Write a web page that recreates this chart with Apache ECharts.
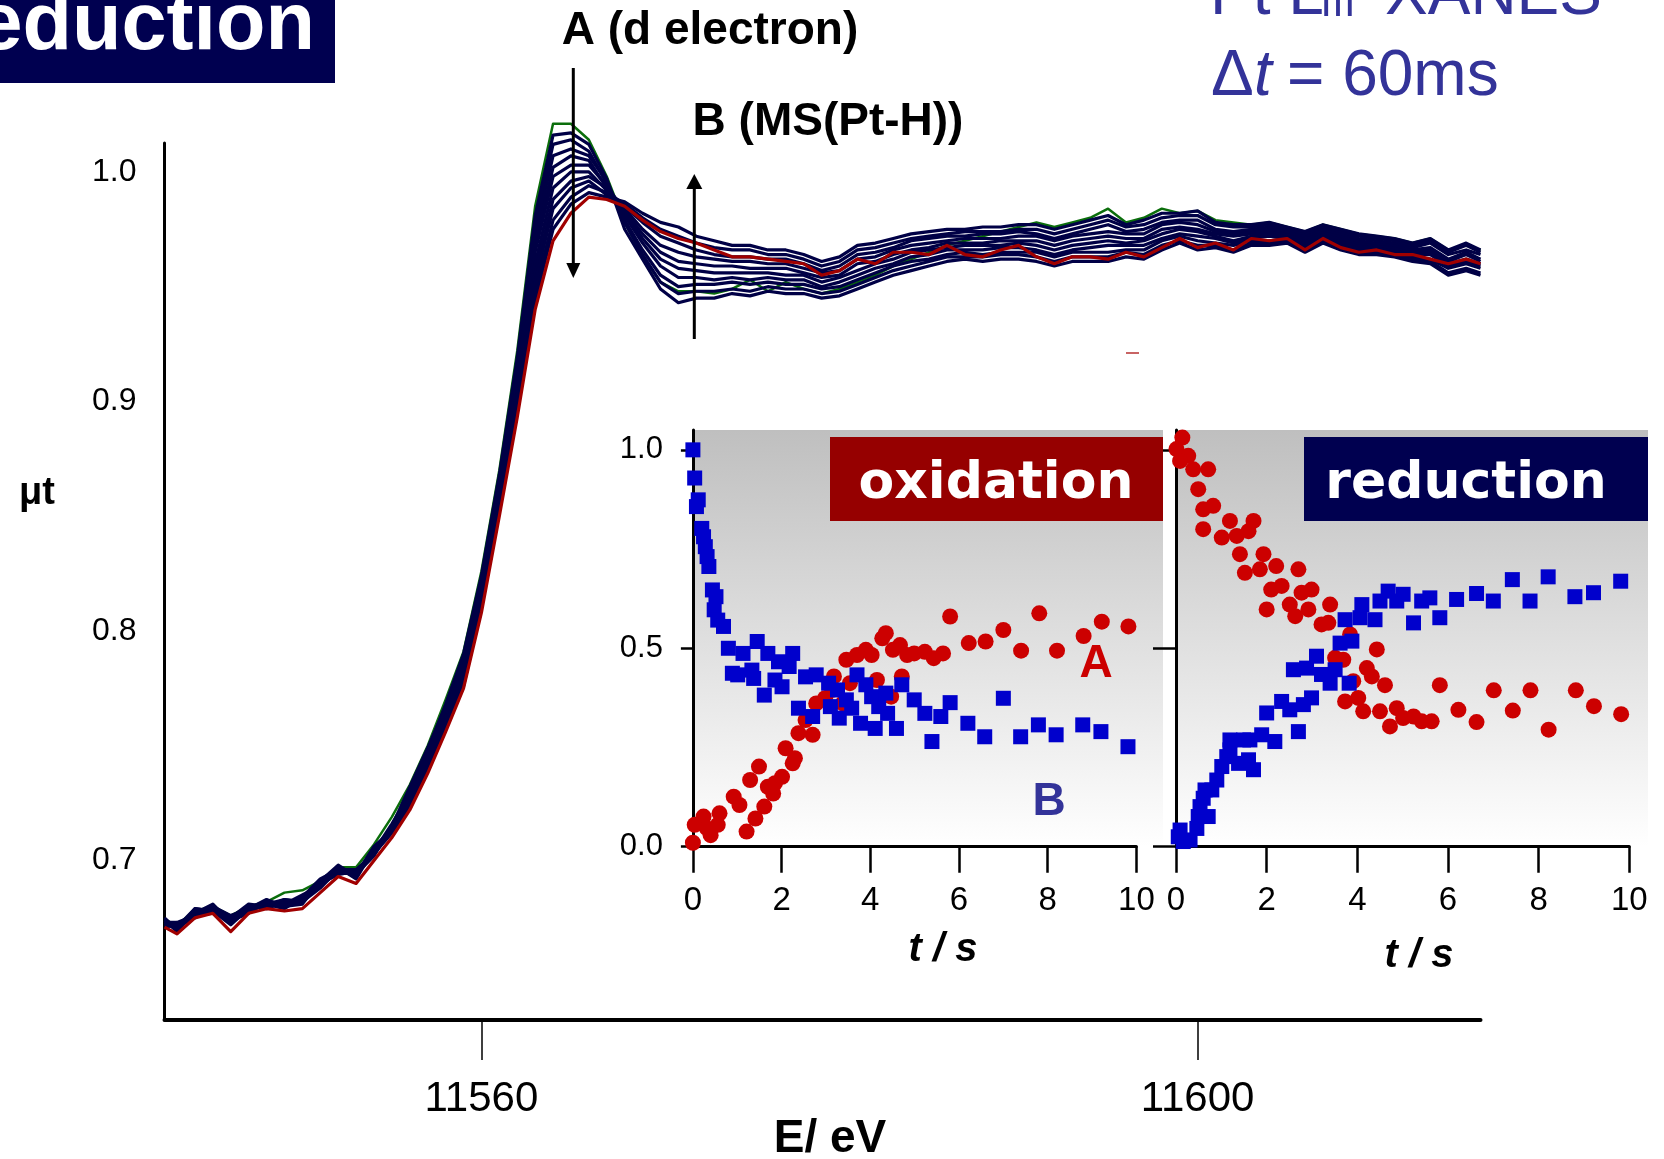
<!DOCTYPE html>
<html>
<head>
<meta charset="utf-8">
<script src="https://cdn.jsdelivr.net/npm/echarts@6.0.0/dist/echarts.min.js"></script>
<style>
  html, body { margin: 0; padding: 0; background: #ffffff; }
  #chart { width: 1664px; height: 1159px; }
</style>
</head>
<body>
<div id="chart"></div>
<script>
// Photon energy of each point of the Pt L3-edge XANES scans (eV)
const energyEv = [
  11542.3, 11543, 11544, 11545, 11546, 11547, 11548, 11549, 11550, 11551,
  11552, 11553, 11554, 11555, 11556, 11557, 11558, 11559, 11560, 11561,
  11562, 11563, 11564, 11565, 11566, 11567, 11568, 11569, 11570, 11571,
  11572, 11573, 11574, 11575, 11576, 11577, 11578, 11579, 11580, 11581,
  11582, 11583, 11584, 11585, 11586, 11587, 11588, 11589, 11590, 11591,
  11592, 11593, 11594, 11595, 11596, 11597, 11598, 11599, 11600, 11601,
  11602, 11603, 11604, 11605, 11606, 11607, 11608, 11609, 11610, 11611,
  11612, 11613, 11614, 11615, 11615.8
];

// mu*t of the successive 60 ms scans, in thousandths.
// scan00 is the first scan, scan11 the last one.
const scan00 = [
  674, 672, 678, 680, 676, 680, 682, 686, 687, 691,
  697, 697, 707, 719, 733, 750, 770, 791, 826, 870,
  922, 985, 1021, 1021, 1014, 998, 978, 963, 952, 948,
  948, 947, 949, 953, 948, 952, 949, 947, 949, 952,
  955, 959, 962, 965, 968, 970, 972, 974, 976, 978,
  976, 978, 980, 984, 978, 980, 984, 982, 983, 979,
  978, 977, 978, 976, 974, 977, 975, 973, 972, 971,
  969, 971, 966, 968, 966
];
const scan01 = [
  674, 671, 679, 678, 675, 680, 681, 683, 682, 691,
  697, 694, 706, 713, 731, 748, 768, 790, 824, 868,
  919, 981, 1016, 1017, 1012, 997, 975, 962, 949, 943,
  945, 945, 947, 946, 948, 947, 947, 945, 946, 949,
  952, 955, 957, 959, 961, 962, 961, 962, 962, 961,
  959, 961, 961, 961, 963, 962, 966, 969, 966, 967,
  965, 968, 968, 969, 965, 969, 966, 964, 964, 963,
  961, 960, 955, 957, 955
];
const scan02 = [
  673, 673, 676, 680, 674, 679, 683, 680, 684, 690,
  696, 696, 703, 715, 732, 749, 767, 788, 823, 866,
  917, 977, 1012, 1014, 1009, 995, 978, 964, 952, 947,
  948, 948, 949, 948, 950, 949, 949, 947, 948, 951,
  954, 957, 959, 961, 963, 963, 963, 964, 964, 963,
  961, 963, 963, 963, 965, 964, 968, 970, 968, 968,
  966, 969, 969, 970, 966, 970, 967, 965, 965, 964,
  962, 961, 956, 958, 956
];
const scan03 = [
  672, 672, 677, 681, 673, 678, 682, 681, 685, 689,
  695, 695, 704, 716, 729, 746, 765, 787, 821, 865,
  914, 973, 1007, 1010, 1007, 996, 979, 966, 955, 950,
  951, 951, 952, 951, 952, 951, 951, 949, 950, 953,
  956, 959, 961, 962, 964, 965, 964, 965, 965, 965,
  963, 965, 965, 965, 966, 966, 970, 972, 970, 969,
  968, 970, 970, 971, 967, 971, 968, 966, 966, 965,
  963, 962, 958, 960, 958
];
const scan04 = [
  675, 670, 678, 679, 675, 681, 680, 682, 683, 691,
  698, 693, 705, 714, 730, 747, 766, 785, 819, 863,
  911, 969, 1002, 1007, 1005, 993, 981, 969, 959, 954,
  954, 953, 954, 953, 954, 953, 953, 950, 952, 955,
  958, 960, 963, 964, 966, 966, 966, 967, 967, 966,
  964, 966, 967, 968, 968, 968, 971, 973, 972, 971,
  969, 971, 972, 971, 968, 972, 969, 967, 967, 966,
  964, 964, 959, 961, 959
];
const scan05 = [
  673, 671, 675, 680, 676, 679, 681, 679, 684, 692,
  696, 694, 702, 715, 728, 744, 763, 784, 818, 861,
  909, 965, 998, 1003, 1003, 994, 982, 971, 962, 958,
  957, 956, 956, 956, 956, 955, 955, 952, 954, 957,
  960, 962, 965, 966, 967, 968, 968, 968, 969, 968,
  966, 968, 969, 970, 969, 970, 973, 975, 974, 972,
  970, 972, 973, 972, 969, 973, 970, 968, 968, 967,
  965, 965, 960, 962, 960
];
const scan06 = [
  671, 672, 677, 678, 674, 677, 682, 681, 682, 690,
  694, 695, 704, 713, 726, 745, 762, 782, 816, 859,
  906, 960, 993, 1000, 1000, 992, 983, 973, 965, 961,
  960, 959, 959, 958, 958, 958, 956, 954, 955, 960,
  961, 964, 966, 967, 969, 969, 969, 970, 970, 970,
  968, 970, 971, 972, 971, 971, 975, 976, 975, 973,
  972, 973, 974, 973, 970, 973, 971, 969, 968, 967,
  965, 966, 961, 964, 961
];
const scan07 = [
  674, 669, 678, 679, 673, 680, 679, 682, 683, 689,
  697, 692, 705, 714, 727, 741, 761, 781, 814, 857,
  903, 956, 988, 996, 998, 993, 984, 975, 968, 965,
  963, 962, 961, 961, 960, 960, 958, 956, 957, 962,
  963, 966, 968, 969, 970, 971, 971, 971, 972, 972,
  970, 972, 973, 974, 973, 973, 977, 978, 977, 974,
  973, 974, 975, 974, 971, 974, 972, 970, 969, 968,
  966, 967, 962, 965, 962
];
const scan08 = [
  672, 671, 676, 677, 675, 678, 681, 680, 681, 691,
  695, 694, 703, 712, 724, 742, 759, 779, 813, 855,
  901, 952, 984, 993, 996, 990, 985, 978, 972, 969,
  966, 964, 963, 963, 962, 962, 960, 957, 959, 964,
  965, 967, 970, 971, 972, 972, 973, 973, 974, 973,
  971, 973, 975, 977, 974, 975, 978, 979, 979, 975,
  974, 975, 976, 974, 972, 975, 973, 971, 970, 969,
  967, 969, 964, 966, 964
];
const scan09 = [
  673, 670, 679, 678, 672, 679, 680, 683, 682, 688,
  696, 693, 706, 713, 725, 739, 760, 778, 811, 854,
  898, 948, 979, 989, 994, 991, 986, 980, 975, 972,
  969, 967, 966, 966, 964, 964, 962, 959, 961, 966,
  967, 969, 971, 972, 973, 974, 974, 974, 975, 975,
  973, 975, 977, 979, 976, 977, 980, 981, 981, 977,
  976, 976, 977, 975, 973, 976, 974, 972, 971, 970,
  968, 970, 965, 968, 965
];
const scan10 = [
  671, 672, 676, 680, 674, 677, 682, 680, 684, 690,
  694, 695, 703, 715, 723, 740, 757, 776, 810, 852,
  895, 944, 975, 986, 991, 989, 987, 982, 978, 976,
  972, 970, 968, 968, 966, 966, 964, 961, 963, 968,
  969, 971, 973, 974, 975, 975, 976, 976, 977, 977,
  975, 977, 979, 981, 977, 979, 982, 982, 983, 978,
  977, 977, 978, 976, 974, 977, 975, 973, 972, 971,
  969, 971, 966, 969, 966
];
const scan11 = [
  671, 668, 675, 677, 669, 677, 679, 678, 679, 686,
  693, 690, 700, 710, 722, 738, 756, 775, 808, 850,
  893, 940, 970, 982, 989, 988, 985, 979, 974, 971,
  969, 966, 963, 963, 962, 961, 960, 955, 957, 962,
  960, 965, 965, 964, 968, 964, 963, 966, 968, 963,
  960, 963, 963, 962, 965, 963, 967, 971, 967, 969,
  966, 971, 970, 971, 966, 971, 967, 965, 966, 964,
  964, 962, 960, 962, 960
];

// Time course [t (s), normalized intensity] of feature A and feature B
const oxidationA = [
  [0, 0.010], [0.04, 0.055], [0.24, 0.076], [0.40, 0.029], [0.60, 0.084],
  [0.56, 0.055], [0.32, 0.046], [0.92, 0.126], [1.05, 0.105], [1.21, 0.038],
  [1.29, 0.168], [1.41, 0.071], [1.49, 0.202], [1.61, 0.101], [1.69, 0.151],
  [1.81, 0.134], [1.85, 0.160], [2.01, 0.176], [2.09, 0.248], [2.25, 0.210],
  [2.30, 0.223], [2.38, 0.286], [2.54, 0.319], [2.70, 0.282], [2.78, 0.361],
  [2.98, 0.374], [3.18, 0.429], [3.14, 0.395], [3.38, 0.361], [3.46, 0.471],
  [3.54, 0.412], [3.70, 0.483], [3.90, 0.496], [4.03, 0.483], [4.15, 0.420],
  [4.27, 0.525], [4.35, 0.538], [4.47, 0.378], [4.51, 0.496], [4.71, 0.429],
  [4.67, 0.508], [4.83, 0.483], [4.99, 0.487], [5.23, 0.491], [5.43, 0.475],
  [5.64, 0.487], [5.80, 0.580], [6.22, 0.513], [6.60, 0.517], [7.00, 0.546],
  [7.40, 0.494], [7.81, 0.588], [8.21, 0.494], [8.81, 0.531], [9.22, 0.567],
  [9.82, 0.555]
];
const oxidationB = [
  [0, 1.000], [0.04, 0.929], [0.12, 0.874], [0.08, 0.857], [0.20, 0.802],
  [0.24, 0.781], [0.28, 0.756], [0.32, 0.731], [0.36, 0.706], [0.44, 0.647],
  [0.52, 0.630], [0.48, 0.597], [0.56, 0.571], [0.69, 0.555], [0.80, 0.500],
  [1.13, 0.487], [1.45, 0.517], [1.69, 0.487], [1.93, 0.466], [2.25, 0.487],
  [0.89, 0.437], [1.01, 0.433], [1.33, 0.445], [1.37, 0.424], [1.61, 0.382],
  [1.85, 0.420], [2.01, 0.403], [2.17, 0.454], [2.54, 0.428], [2.78, 0.433],
  [3.06, 0.412], [3.26, 0.395], [2.38, 0.349], [2.70, 0.328], [3.10, 0.353],
  [3.30, 0.324], [3.46, 0.370], [3.58, 0.349], [3.70, 0.433], [3.90, 0.408],
  [4.03, 0.378], [4.19, 0.353], [4.39, 0.336], [4.35, 0.387], [4.71, 0.408],
  [4.99, 0.370], [3.78, 0.311], [4.11, 0.298], [4.59, 0.298], [5.23, 0.336],
  [5.39, 0.265], [5.59, 0.328], [5.80, 0.363], [6.20, 0.311], [6.58, 0.277],
  [7.00, 0.374], [7.39, 0.277], [7.79, 0.307], [8.19, 0.282], [8.79, 0.307],
  [9.20, 0.290], [9.81, 0.252]
];
const reductionA = [
  [0.14, 1.031], [0.01, 1.002], [0.27, 0.985], [0.09, 0.972], [0.38, 0.951],
  [0.71, 0.951], [0.49, 0.901], [0.60, 0.850], [0.82, 0.859], [0.60, 0.800],
  [1.01, 0.779], [1.19, 0.821], [1.34, 0.783], [1.60, 0.795], [1.71, 0.821],
  [1.41, 0.737], [1.93, 0.737], [1.52, 0.690], [1.85, 0.699], [2.21, 0.707],
  [2.70, 0.699], [2.10, 0.648], [2.33, 0.657], [2.99, 0.648], [2.77, 0.640],
  [2.00, 0.598], [2.51, 0.610], [2.63, 0.581], [2.92, 0.598], [3.40, 0.610],
  [3.21, 0.560], [3.36, 0.564], [3.84, 0.535], [4.43, 0.497], [3.51, 0.476],
  [3.69, 0.471], [4.21, 0.450], [3.91, 0.417], [4.32, 0.429], [4.61, 0.407],
  [3.73, 0.366], [4.02, 0.375], [4.13, 0.341], [4.50, 0.341], [4.87, 0.349],
  [4.72, 0.303], [5.01, 0.324], [5.24, 0.328], [5.42, 0.316], [5.64, 0.316],
  [5.82, 0.407], [6.23, 0.345], [6.63, 0.314], [7.01, 0.394], [7.43, 0.343],
  [7.82, 0.394], [8.22, 0.295], [8.82, 0.394], [9.22, 0.354], [9.82, 0.334]
];
const reductionB = [
  [0.05, 0.025], [0.16, 0.013], [0.31, 0.017], [0.09, 0.042], [0.46, 0.046],
  [0.49, 0.076], [0.71, 0.076], [0.53, 0.101], [0.60, 0.122], [0.79, 0.143],
  [0.64, 0.143], [0.90, 0.168], [1.01, 0.202], [1.12, 0.227], [1.19, 0.269],
  [1.19, 0.244], [1.38, 0.210], [1.49, 0.269], [1.60, 0.219], [1.71, 0.194],
  [1.63, 0.269], [1.89, 0.282], [2.00, 0.337], [2.18, 0.265], [2.33, 0.366],
  [2.51, 0.345], [2.70, 0.290], [2.81, 0.358], [2.99, 0.375], [2.59, 0.446],
  [2.88, 0.450], [3.10, 0.480], [3.21, 0.434], [3.40, 0.412], [3.51, 0.446],
  [3.62, 0.513], [3.88, 0.518], [3.82, 0.412], [3.73, 0.572], [4.06, 0.577],
  [4.10, 0.610], [4.39, 0.572], [4.50, 0.619], [4.68, 0.644], [4.87, 0.619],
  [5.01, 0.636], [5.24, 0.564], [5.42, 0.619], [5.60, 0.627], [5.82, 0.577],
  [6.19, 0.623], [6.63, 0.638], [7.00, 0.619], [7.42, 0.673], [7.81, 0.619],
  [8.21, 0.680], [8.80, 0.630], [9.21, 0.640], [9.81, 0.669]
];

// Tick positions
const energyTicks = [11560, 11600];
const muTicks = [0.7, 0.8, 0.9, 1.0];
const kineticsTicks = [0, 0.5, 1.0];

const SANS = '"Liberation Sans", Arial, Helvetica, sans-serif';
const ROUND = '"DejaVu Sans", sans-serif';
const NAVY = '#000046';

const scans = [scan00, scan01, scan02, scan03, scan04, scan05,
               scan06, scan07, scan08, scan09, scan10, scan11];

const scanSeries = scans.map((scan, i) => {
  const first = i === 0, last = i === scans.length - 1;
  return {
    type: 'line',
    xAxisIndex: 0, yAxisIndex: 0,
    data: energyEv.map((e, j) => [e, scan[j] / 1000]),
    showSymbol: false, symbol: 'none',
    clip: false, silent: true,
    z: last ? 4 : 2,
    lineStyle: {
      color: first ? '#0b6e0b' : (last ? '#a00000' : NAVY),
      width: first ? 2.5 : 3.2,
      opacity: 1,
      join: 'round'
    }
  };
});

function kinetic(data, grid, isA) {
  return {
    type: 'scatter',
    xAxisIndex: grid, yAxisIndex: grid,
    data: data,
    symbol: isA ? 'circle' : 'rect',
    symbolSize: isA ? 16 : 15,
    itemStyle: { color: isA ? '#cc0000' : '#0000cc', opacity: 1 },
    z: isA ? 3 : 4,
    silent: true
  };
}

function text(x, y, str, size, opts) {
  opts = opts || {};
  return {
    type: 'text', x: x, y: y, z: opts.z || 20, silent: true,
    style: {
      text: str,
      fill: opts.color || '#000',
      fontSize: size,
      fontWeight: opts.weight || 'normal',
      fontStyle: opts.italic ? 'italic' : 'normal',
      fontFamily: opts.family || SANS,
      align: opts.align || 'center', textAlign: opts.align || 'center',
      verticalAlign: 'middle', textVerticalAlign: 'middle',
      shadowColor: opts.shadow ? 'rgba(0,0,0,0.9)' : 'transparent',
      shadowOffsetX: opts.shadow ? 2 : 0,
      shadowOffsetY: opts.shadow ? 2 : 0,
      shadowBlur: opts.shadow ? 1.5 : 0
    }
  };
}

const panelFill = {
  type: 'linear', x: 0, y: 0, x2: 0, y2: 1,
  colorStops: [{ offset: 0, color: '#bfbfbf' }, { offset: 1, color: '#ffffff' }]
};

const graphics = [
  // shaded backgrounds of the two kinetics panels
  { type: 'rect', z: -1, silent: true, shape: { x: 693, y: 430, width: 470, height: 417 }, style: { fill: panelFill } },
  { type: 'rect', z: -1, silent: true, shape: { x: 1175, y: 430, width: 473, height: 417 }, style: { fill: panelFill } },

  // title box in the corner
  { type: 'rect', z: 10, silent: true, shape: { x: 0, y: 0, width: 335, height: 83 }, style: { fill: '#000050' } },
  text(315, 27, 'reduction', 81, { color: '#fff', weight: 'bold', align: 'right' }),

  // edge / time resolution caption
  text(1210, -4, 'Pt L', 64, { color: '#333399', align: 'left' }),
  text(1318, 1, 'Ⅲ', 40, { color: '#333399', align: 'left', family: '"Noto Sans CJK JP", sans-serif' }),
  text(1385, -4, 'XANES', 64, { color: '#333399', align: 'left' }),
  text(1211, 77, 'Δ', 64, { color: '#333399', align: 'left' }),
  text(1254, 77, 't', 64, { color: '#333399', align: 'left', italic: true }),
  text(1287, 77, '= 60ms', 64, { color: '#333399', align: 'left' }),

  // feature annotations and their arrows
  text(710, 31, 'A (d electron)', 46, { weight: 'bold' }),
  text(828, 122, 'B (MS(Pt-H))', 46, { weight: 'bold' }),
  { type: 'line', z: 15, silent: true, shape: { x1: 573.3, y1: 68, x2: 573.3, y2: 266 }, style: { stroke: '#000', lineWidth: 3 } },
  { type: 'polygon', z: 15, silent: true, shape: { points: [[566.3, 263], [580.3, 263], [573.3, 278]] }, style: { fill: '#000' } },
  { type: 'line', z: 15, silent: true, shape: { x1: 694.3, y1: 339, x2: 694.3, y2: 186 }, style: { stroke: '#000', lineWidth: 3 } },
  { type: 'polygon', z: 15, silent: true, shape: { points: [[686.3, 189], [702.3, 189], [694.3, 174]] }, style: { fill: '#000' } },
  { type: 'line', z: 15, silent: true, shape: { x1: 1126, y1: 353, x2: 1139, y2: 353 }, style: { stroke: '#c86464', lineWidth: 2 } },

  // panel captions
  { type: 'rect', z: 10, silent: true, shape: { x: 830, y: 437, width: 333, height: 84 }, style: { fill: '#960000' } },
  text(996, 484, 'oxidation', 52, { color: '#fff', weight: 'bold', family: ROUND, shadow: true }),
  { type: 'rect', z: 10, silent: true, shape: { x: 1304, y: 437, width: 344, height: 84 }, style: { fill: '#000050' } },
  text(1466, 484, 'reduction', 52, { color: '#fff', weight: 'bold', family: ROUND, shadow: true }),

  // series letters inside the oxidation panel
  text(1096, 664, 'A', 46, { color: '#cc0000', weight: 'bold' }),
  text(1049, 802, 'B', 46, { color: '#333399', weight: 'bold' }),

  // axis names
  text(37, 494, 'μt', 38, { weight: 'bold' }),
  text(830, 1139, 'E/ eV', 46, { weight: 'bold' }),
  text(943, 950, 't / s', 40, { weight: 'bold', italic: true }),
  text(1419, 956, 't / s', 40, { weight: 'bold', italic: true })
];

function kineticsX(grid) {
  return {
    gridIndex: grid, type: 'value', min: 0, max: 10, interval: 2,
    axisLine: { onZero: false, lineStyle: { color: '#000', width: 3 } },
    axisTick: { length: 26, lineStyle: { color: '#000', width: 2.5 } },
    axisLabel: { fontSize: 33, fontFamily: SANS, color: '#000', margin: 38 },
    splitLine: { show: false }
  };
}
function kineticsY(grid, showLabels, tickLen) {
  return {
    gridIndex: grid, type: 'value', min: 0, max: 1.05,
    axisLine: { onZero: false, lineStyle: { color: '#000', width: 3 } },
    axisTick: { customValues: kineticsTicks, length: tickLen, lineStyle: { color: '#000', width: 2.5 } },
    axisLabel: {
      show: showLabels, customValues: kineticsTicks,
      formatter: v => v.toFixed(1),
      fontSize: 31, fontFamily: SANS, color: '#000', margin: 30,
      padding: [0, 0, 14, 0]
    },
    splitLine: { show: false }
  };
}

const option = {
  backgroundColor: '#ffffff',
  animation: false,
  grid: [
    { left: 164.5, right: 183.5, top: 143, bottom: 139 },
    { left: 692.9, right: 527.6, top: 430, bottom: 312.3 },
    { left: 1176, right: 34.7, top: 430, bottom: 312.3 }
  ],
  xAxis: [
    {
      gridIndex: 0, type: 'value', min: 11542.3, max: 11615.8,
      axisLine: { onZero: false, lineStyle: { color: '#000', width: 4 } },
      axisTick: { customValues: energyTicks, length: 40, lineStyle: { color: '#000', width: 1.5 } },
      axisLabel: {
        customValues: energyTicks, formatter: v => String(v),
        fontSize: 42, fontFamily: SANS, color: '#000', margin: 58
      },
      splitLine: { show: false }
    },
    kineticsX(1),
    kineticsX(2)
  ],
  yAxis: [
    {
      gridIndex: 0, type: 'value', min: 0.6305, max: 1.0126,
      axisLine: { onZero: false, lineStyle: { color: '#000', width: 3 } },
      axisTick: { show: false },
      axisLabel: {
        customValues: muTicks, formatter: v => v.toFixed(1),
        fontSize: 32, fontFamily: SANS, color: '#000', margin: 28
      },
      splitLine: { show: false }
    },
    kineticsY(1, true, 12),
    kineticsY(2, false, 23)
  ],
  graphic: graphics,
  series: scanSeries.concat([
    kinetic(oxidationA, 1, true),
    kinetic(oxidationB, 1, false),
    kinetic(reductionA, 2, true),
    kinetic(reductionB, 2, false)
  ])
};

const chart = echarts.init(document.getElementById('chart'), null, { renderer: 'canvas' });
chart.setOption(option);
</script>
</body>
</html>
